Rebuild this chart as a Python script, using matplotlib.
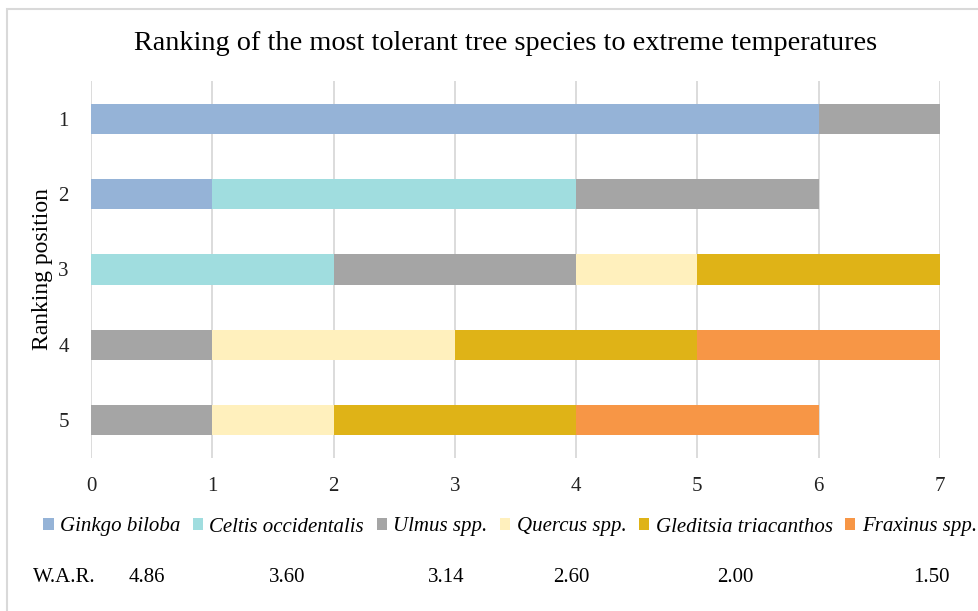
import matplotlib.pyplot as plt
from matplotlib.patches import Rectangle

# ranking positions (rows) and how many votes each species got per position
positions = ["1", "2", "3", "4", "5"]
species = ["Ginkgo biloba", "Celtis occidentalis", "Ulmus spp.",
           "Quercus spp.", "Gleditsia triacanthos", "Fraxinus spp."]
ginkgo = [6, 1, 0, 0, 0]
celtis = [0, 3, 2, 0, 0]
ulmus = [1, 2, 2, 1, 1]
quercus = [0, 0, 1, 2, 1]
gleditsia = [0, 0, 2, 2, 2]
fraxinus = [0, 0, 0, 2, 2]
war_values = ["4.86", "3.60", "3.14", "2.60", "2.00", "1.50"]

colors = ["#95B3D7", "#A0DDDF", "#A5A5A5", "#FFF0BD", "#DFB317", "#F79646"]
war_x = [147, 287, 446, 571, 735, 931]  # pixel x of each W.A.R. value

plt.rcParams["font.family"] = ["Liberation Serif", "DejaVu Serif"]

fig = plt.figure(figsize=(9.79, 6.11), dpi=100)
ax = fig.add_axes([91 / 979, 1 - 458 / 611, 849 / 979, 377 / 611])

y = list(range(len(positions)))
left = [0] * len(positions)
for name, vals, col in zip(species, [ginkgo, celtis, ulmus, quercus, gleditsia, fraxinus], colors):
    ax.barh(y, vals, left=left, height=0.4, color=col, label=name, linewidth=0, zorder=3)
    left = [a + b for a, b in zip(left, vals)]

ax.set_xlim(0, 7)
ax.set_ylim(4.5, -0.5)
ax.set_yticks(y)
ax.set_yticklabels(positions)
ax.set_xticks(range(8))
ax.tick_params(length=0, labelsize=15, colors="#222222")
ax.tick_params(axis="y", pad=16)
ax.tick_params(axis="x", pad=14)
ax.grid(axis="x", color="#D9D9D9", linewidth=1.3, zorder=0)
for s in ax.spines.values():
    s.set_visible(False)
ax.set_ylabel("Ranking position", fontsize=17, labelpad=4)

fig.text(506 / 979, 1 - 43 / 611, "Ranking of the most tolerant tree species to extreme temperatures",
         ha="center", va="center", fontsize=20.3)

fig.legend(loc="center", bbox_to_anchor=(510 / 979, 1 - 527 / 611), ncol=6, frameon=False,
           prop={"style": "italic", "size": 15}, handlelength=0.5, handleheight=0.5,
           handletextpad=0.3, columnspacing=0.6, borderaxespad=0)

fig.text(33 / 979, 1 - 578 / 611, "W.A.R.", ha="left", va="center", fontsize=15)
for xv, v in zip(war_x, war_values):
    fig.text(xv / 979, 1 - 578 / 611, v, ha="center", va="center", fontsize=15)

fig.patches.append(Rectangle((7 / 979, -0.1), 1.2, 1.1 - 9 / 611, transform=fig.transFigure,
                             fill=False, edgecolor="#D9D9D9", linewidth=1.5))

fig.savefig("out.png", dpi=100)
